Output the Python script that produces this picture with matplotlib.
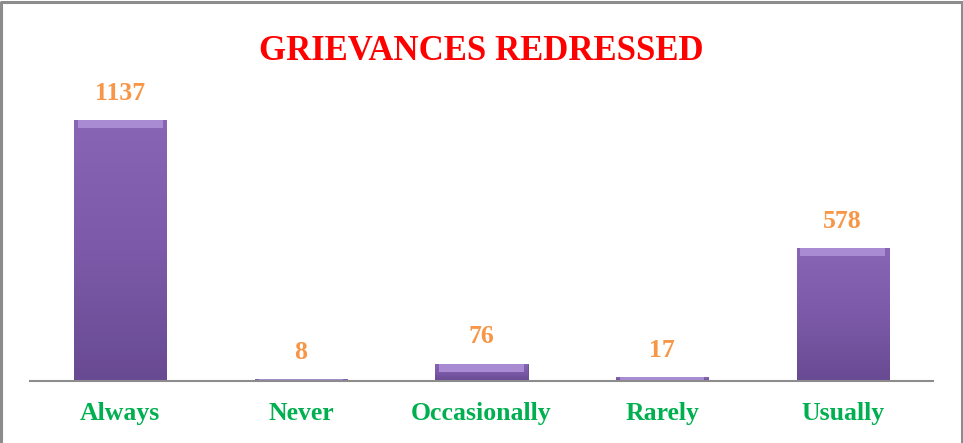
import numpy as np
import matplotlib
matplotlib.use("Agg")
import matplotlib.pyplot as plt
from matplotlib.colors import LinearSegmentedColormap
from matplotlib.lines import Line2D

categories = ["Always", "Never", "Occasionally", "Rarely", "Usually"]
counts = [1137, 8, 76, 17, 578]
title = "GRIEVANCES REDRESSED"

fig = plt.figure(figsize=(9.63, 4.43), dpi=100)

# grey frame on top, left and right (the bottom edge is cut off in the original)
W, H = 963, 443
fig.add_artist(Line2D([1 / W, 1 / W, 1 - 1 / W, 1 - 1 / W], [0, 1 - 1.5 / H, 1 - 1.5 / H, 0],
                      transform=fig.transFigure, color="#8c8c8c", linewidth=2.2))

ax = fig.add_axes([30 / W, 62 / H, 903 / W, 275.5 / H])
x = np.arange(len(categories))
bars = ax.bar(x, counts, width=0.51, color="#7654a3", edgecolor="#5e4387", linewidth=0.6)

# vertical shading on each bar (darker at the base, lighter towards the top)
shade = LinearSegmentedColormap.from_list("shade", ["#684a92", "#7c5aa9", "#8866b5"])
grad = np.linspace(0, 1, 256).reshape(-1, 1)
for b in bars:
    x0, y0 = b.get_x(), b.get_y()
    w, h = b.get_width(), b.get_height()
    im = ax.imshow(grad, cmap=shade, origin="lower", aspect="auto",
                   extent=[x0, x0 + w, y0, y0 + h], zorder=2.1)
    im.set_clip_path(b)
    # light bevel along the top
    bevel = min(h, 35)
    ax.fill_between([x0 + w * 0.04, x0 + w * 0.96], y0 + h - bevel, y0 + h,
                    color="#a88bd3", zorder=2.2, linewidth=0)

for xi, v in zip(x, counts):
    ax.annotate(str(v), (xi, v), xytext=(0, 11), textcoords="offset points",
                ha="center", va="bottom", fontsize=18.5, fontweight="bold",
                color="#f79646", family="Liberation Serif")

ax.set_xlim(-0.5, 4.5)
ax.set_ylim(0, 1200)
ax.set_yticks([])
ax.set_xticks(x)
ax.set_xticklabels(categories, fontsize=18.5, fontweight="bold", color="#00b050",
                   family="Liberation Serif")
ax.tick_params(axis="x", length=0, pad=15)
for s in ["top", "right", "left"]:
    ax.spines[s].set_visible(False)
ax.spines["bottom"].set_color("#8c8c8c")
ax.spines["bottom"].set_linewidth(1.5)
ax.spines["bottom"].set_zorder(3)

fig.text(0.5, 1 - 52 / H, title, ha="center", va="center", fontsize=25,
         fontweight="bold", color="#ff0000", family="Liberation Serif")

fig.savefig("out.png", dpi=100)
